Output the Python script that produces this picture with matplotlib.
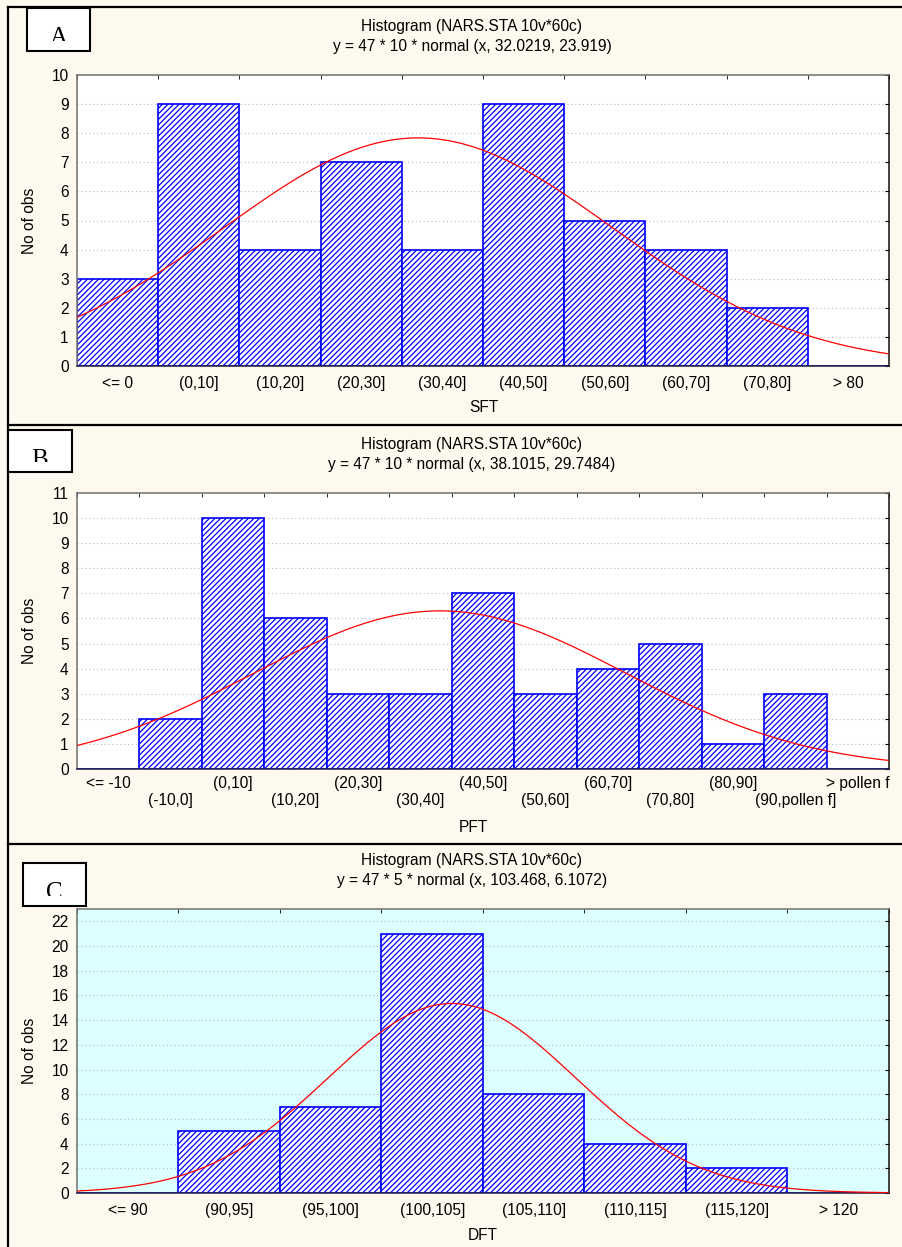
import numpy as np
import matplotlib
matplotlib.use('Agg')
from matplotlib import pyplot as plt
from matplotlib.lines import Line2D
from matplotlib.patches import Rectangle
from matplotlib.transforms import Bbox, TransformedBbox

# panel A - SFT
sft_labels = ["<= 0", "(0,10]", "(10,20]", "(20,30]", "(30,40]", "(40,50]",
              "(50,60]", "(60,70]", "(70,80]", "> 80"]
sft_counts = [3, 9, 4, 7, 4, 9, 5, 4, 2, 0]
sft_fit = (47, 10, 32.0219, 23.919, -10)   # n, bin width, mean, sd, first edge

# panel B - PFT
pft_labels = ["<= -10", "(-10,0]", "(0,10]", "(10,20]", "(20,30]", "(30,40]",
              "(40,50]", "(50,60]", "(60,70]", "(70,80]", "(80,90]",
              "(90,pollen f]", "> pollen f"]
pft_counts = [0, 2, 10, 6, 3, 3, 7, 3, 4, 5, 1, 3, 0]
pft_fit = (47, 10, 38.1015, 29.7484, -20)

# panel C - DFT
dft_labels = ["<= 90", "(90,95]", "(95,100]", "(100,105]", "(105,110]",
              "(110,115]", "(115,120]", "> 120"]
dft_counts = [0, 5, 7, 21, 8, 4, 2, 0]
dft_fit = (47, 5, 103.468, 6.1072, 85)

W, H = 903, 1247
BG = '#fdf9ee'
FS = 11.2

plt.rcParams['font.family'] = ['Liberation Sans', 'DejaVu Sans']
plt.rcParams['hatch.linewidth'] = 0.9
plt.rcParams['hatch.color'] = '#0000ff'

fig = plt.figure(figsize=(W / 100, H / 100), dpi=100, facecolor=BG)


def fx(px):
    return px / W


def fy(py):
    return 1 - py / H


def panel(labels, counts, fit, top, bottom, ymax, ystep, title2, xlab,
          xlab_x, letter, box, face='white', two_rows=False):
    ax = fig.add_axes([fx(77), fy(bottom), fx(889) - fx(77), (bottom - top) / H])
    ax.set_facecolor(face)
    n = len(counts)
    pos = np.arange(n)
    ax.bar(pos, counts, width=1.0, color='white', edgecolor='#0000ff',
           hatch='//////', linewidth=1.2, zorder=2)

    # fitted normal curve from the title formula
    nobs, bw, mu, sd, lo = fit
    xv = np.linspace(lo, lo + n * bw, 400)
    yv = nobs * bw * np.exp(-0.5 * ((xv - mu) / sd) ** 2) / (sd * np.sqrt(2 * np.pi))
    ax.plot((xv - lo) / bw - 0.5, yv, color='#ff0000', lw=0.9, zorder=3)

    ax.set_xlim(-0.5, n - 0.5)
    ax.set_ylim(0, ymax)
    ax.set_yticks(np.arange(0, ymax + 0.01, ystep) if ymax % ystep == 0
                  else np.arange(0, ymax, ystep))
    ax.set_xticks(pos)
    if two_rows:
        # even labels on the first row, odd ones on a second row below
        ax.set_xticklabels([l if i % 2 == 0 else '' for i, l in enumerate(labels)],
                           fontsize=FS)
        for i, l in enumerate(labels):
            if i % 2 == 1:
                ax.annotate(l, xy=(i, 0), xycoords=('data', 'axes fraction'),
                            xytext=(0, -32 * 0.72), textcoords='offset points',
                            ha='center', va='center', fontsize=FS)
    else:
        ax.set_xticklabels(labels, fontsize=FS)
    ax.set_xticks(np.arange(n + 1) - 0.5, minor=True)
    ax.tick_params(axis='x', which='major', length=0, pad=7 if not two_rows else 5)
    ax.tick_params(axis='x', which='minor', top=True, bottom=False,
                   direction='in', length=3, color='black')
    ax.tick_params(axis='y', labelsize=FS, left=False, right=True,
                   direction='in', length=3, pad=6)
    ax.yaxis.grid(True, linestyle=(0, (1, 2.5)), color='#bdbdbd', lw=0.8)
    ax.set_axisbelow(True)
    for side, c in (('left', '#707070'), ('top', '#707070'),
                    ('right', '#101010'), ('bottom', '#202040')):
        ax.spines[side].set_color(c)
        ax.spines[side].set_linewidth(1.1)

    fig.text(fx(472), fy(top - 49), "Histogram (NARS.STA 10v*60c)",
             ha='center', va='center', fontsize=FS)
    fig.text(fx(472), fy(top - 28), title2, ha='center', va='center', fontsize=FS)
    fig.text(fx(30), fy((top + bottom) / 2), "No of obs", rotation=90,
             ha='center', va='center', fontsize=FS)
    fig.text(fx(xlab_x), fy(bottom + 42 if not two_rows else bottom + 58), xlab,
             ha='center', va='center', fontsize=FS)

    # panel letter box
    x0, y0, x1, y1 = box
    fig.add_artist(Rectangle((fx(x0), fy(y1)), fx(x1) - fx(x0), (y1 - y0) / H,
                             transform=fig.transFigure, facecolor='white',
                             edgecolor='black', lw=1.5, zorder=5))
    t = fig.text(fx((x0 + x1) / 2), fy(y0 + 19), letter, ha='center', va='top',
                 fontsize=18, family='Liberation Serif', zorder=6)
    clip = TransformedBbox(Bbox.from_extents(fx(x0), fy(y1 - 10), fx(x1), fy(y0)),
                           fig.transFigure)
    t.set_clip_box(clip)
    t.set_clip_on(True)
    return ax


panel(sft_labels, sft_counts, sft_fit, 75, 366, 10, 1,
      "y = 47 * 10 * normal (x, 32.0219, 23.919)", "SFT", 484, "A",
      (27, 8, 90, 51))
panel(pft_labels, pft_counts, pft_fit, 493, 769, 11, 1,
      "y = 47 * 10 * normal (x, 38.1015, 29.7484)", "PFT", 473, "B",
      (8, 430, 72, 472), two_rows=True)
panel(dft_labels, dft_counts, dft_fit, 909, 1193, 23, 2,
      "y = 47 * 5 * normal (x, 103.468, 6.1072)", "DFT", 483, "C",
      (23, 863, 86, 906), face='#dcffff')

# frame lines between the panels
for yy in (7, 425, 844):
    fig.add_artist(Line2D([fx(8), 1], [fy(yy), fy(yy)], transform=fig.transFigure,
                          color='black', lw=1.6))
fig.add_artist(Line2D([fx(8), fx(8)], [fy(7), 0], transform=fig.transFigure,
                      color='black', lw=1.6))

fig.savefig('out.png', dpi=100, facecolor=BG)
